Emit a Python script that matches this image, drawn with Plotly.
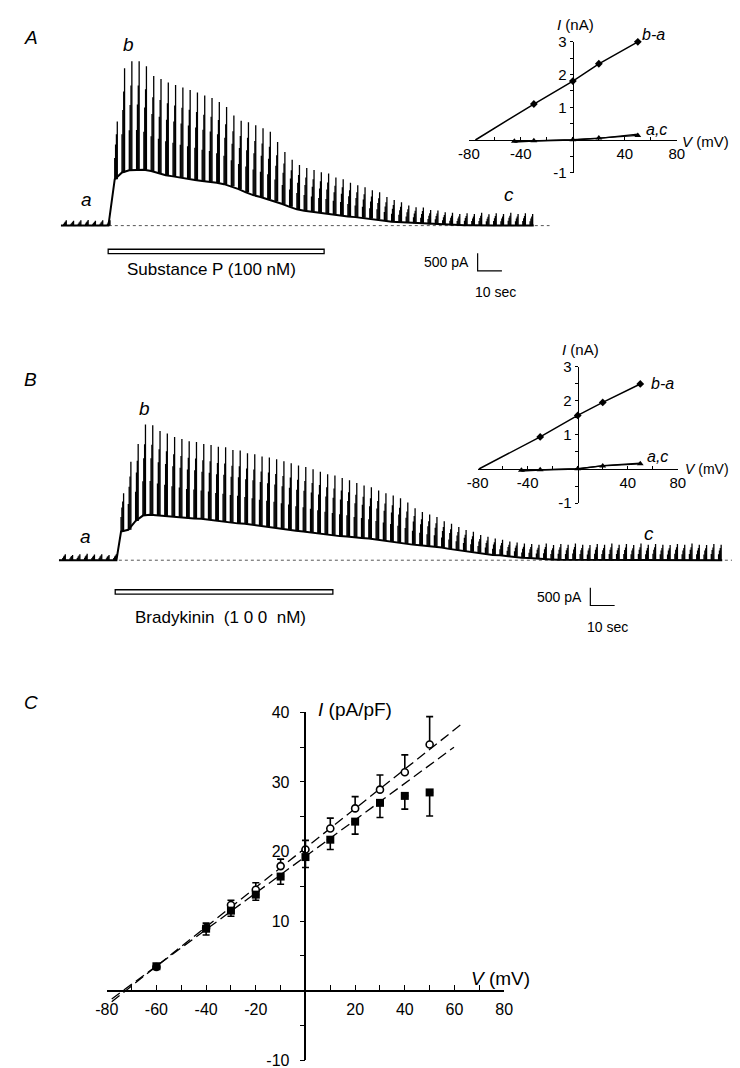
import plotly.graph_objects as go

W, H = 740, 1068
FONT = "Liberation Sans, Arial, Helvetica, sans-serif"

# ------------------------------------------------------------------ data
PERIOD_S = 3.0                 # voltage-step episode every 3 s
A_FIRST_S, B_FIRST_S = 1.2, 1.6
A_ONSET_S, B_ONSET_S = 19.6, 23.7
SP_APPL_S = [19.5, 108.4]       # substance P application
BK_APPL_S = [23.2, 112.8]       # bradykinin application
SCALE_I_NA, SCALE_T_S = 0.5, 10.0

# current at +50 mV step of each episode (nA above baseline)
A_PEAK_NA = [0.15, 0.14, 0.15, 0.16, 0.14, 0.15, 0.15,
             2.94, 4.44, 4.64, 4.64, 4.50, 4.22, 4.14, 4.04, 3.97, 3.90,
             3.83, 3.76, 3.67, 3.60, 3.49, 3.35, 3.11, 2.96, 2.92, 2.83,
             2.75, 2.65, 2.36, 2.08, 1.86, 1.71, 1.63, 1.57, 1.51, 1.47,
             1.36, 1.31, 1.21, 1.14, 1.08, 1.00, 0.94, 0.81, 0.72, 0.66,
             0.57, 0.52, 0.51, 0.44, 0.43, 0.38,
             0.36, 0.33, 0.35, 0.33, 0.36, 0.32, 0.35, 0.33, 0.36, 0.33, 0.35, 0.33]
# holding current of each episode (nA)
A_HOLD_NA = [0, 0, 0, 0, 0, 0, 0,
             1.31, 1.50, 1.56, 1.58, 1.58, 1.54, 1.47, 1.42, 1.39, 1.35,
             1.32, 1.29, 1.26, 1.24, 1.21, 1.17, 1.11, 1.03, 0.94, 0.86,
             0.81, 0.75, 0.69, 0.61, 0.53, 0.46, 0.42, 0.39, 0.36, 0.34,
             0.32, 0.29, 0.26, 0.24, 0.22, 0.20, 0.18, 0.14, 0.11, 0.10,
             0.08, 0.07, 0.06, 0.04, 0.03,
             0.02, 0.01, 0.01, 0.01, 0.01, 0.0, 0.01, 0.0, 0.0, 0.01, 0.0, 0.0, 0.0]

B_PEAK_NA = [0.17, 0.15, 0.17, 0.18, 0.16, 0.17, 0.15, 0.17,
             1.89, 2.78, 3.28, 3.83, 3.81, 3.65, 3.58, 3.48, 3.42, 3.36,
             3.34, 3.28, 3.25, 3.20, 3.19, 3.11, 3.10, 3.02, 2.99, 2.93,
             2.90, 2.85, 2.79, 2.74, 2.67, 2.63, 2.57, 2.50, 2.43, 2.39,
             2.32, 2.26, 2.18, 2.11, 2.06, 1.97, 1.89, 1.83, 1.75, 1.63,
             1.47, 1.36, 1.29, 1.22, 1.10, 1.03, 0.94, 0.85, 0.80, 0.71,
             0.66, 0.61, 0.58, 0.53, 0.50, 0.47,
             0.46, 0.44, 0.47, 0.43, 0.46, 0.44, 0.47, 0.44, 0.43, 0.46,
             0.44, 0.47, 0.44, 0.46, 0.43, 0.47, 0.44, 0.46, 0.44, 0.43,
             0.46, 0.44, 0.47, 0.44, 0.43, 0.46, 0.44]
B_HOLD_NA = [0, 0, 0, 0, 0, 0, 0, 0,
             0.81, 0.86, 1.11, 1.26, 1.28, 1.26, 1.25, 1.24, 1.22, 1.19,
             1.18, 1.17, 1.14, 1.11, 1.08, 1.07, 1.04, 1.03, 1.00, 0.97,
             0.94, 0.92, 0.89, 0.86, 0.83, 0.81, 0.78, 0.75, 0.72, 0.69,
             0.68, 0.67, 0.64, 0.63, 0.61, 0.58, 0.56, 0.53, 0.50, 0.47,
             0.44, 0.42, 0.40, 0.39, 0.36, 0.32, 0.29, 0.26, 0.24, 0.21,
             0.18, 0.15, 0.14, 0.11, 0.10, 0.07,
             0.06, 0.04, 0.03, 0.02, 0.01, 0.01, 0.02, 0.01, 0.0, 0.01,
             0.01, 0.0, 0.01, 0.0, 0.01, 0.0, 0.0, 0.01, 0.0, 0.0,
             0.01, 0.0, 0.0, 0.0, 0.0, 0.0, 0.0]

# inset I-V relations
IV_V_MV = [-30, 0, 20, 50]
A_BA_NA = [1.10, 1.80, 2.33, 3.00]
A_BA_REV_MV = -75
B_BA_NA = [0.94, 1.57, 1.95, 2.49]
B_BA_REV_MV = -79
AC_V_MV = [-45, -30, 0, 20, 50]
A_A_NA = [-0.06, -0.03, 0.00, 0.05, 0.18]
A_C_NA = [-0.04, -0.02, 0.01, 0.06, 0.14]
B_A_NA = [-0.06, -0.03, 0.00, 0.10, 0.17]
B_C_NA = [-0.04, -0.02, 0.01, 0.09, 0.15]

# panel C : current density
C_V = [-60, -40, -30, -20, -10, 0, 10, 20, 30, 40, 50]
C_OPEN = [3.4, 9.0, 12.3, 14.5, 17.9, 20.3, 23.3, 26.2, 28.9, 31.4, 35.4]
C_OPEN_SEM = [0.4, 0.7, 0.7, 1.0, 1.0, 1.3, 1.5, 1.7, 2.1, 2.5, 4.0]
C_FILL = [3.5, 8.9, 11.5, 13.8, 16.4, 19.2, 21.7, 24.3, 27.0, 28.0, 28.5]
C_FILL_SEM = [0.4, 0.9, 0.8, 0.8, 1.1, 1.5, 1.4, 1.8, 2.1, 1.9, 3.4]
C_FIT_OPEN_V, C_FIT_OPEN_I = [-78, 62.4], [-1.6, 38.2]
C_FIT_FILL_V, C_FIT_FILL_I = [-78, 59.8], [-1.2, 35.0]

# ------------------------------------------------------------------ helpers
def px(x): return x / W
def py(y): return 1 - y / H
def dom_x(a, b): return [a / W, b / W]
def dom_y(top, bottom): return [1 - bottom / H, 1 - top / H]

S_PER_PX, PX_PER_NA = 0.4, 36.0
A_X0, A_BASE = 42, 212
B_X0, B_BASE = 40, 552
def a_t(x): return (x - A_X0) * S_PER_PX
def a_i(y): return (A_BASE - y) / PX_PER_NA
def b_t(x): return (x - B_X0) * S_PER_PX
def b_i(y): return (B_BASE - y) / PX_PER_NA


def spikes(first, peaks, holds, ba):
    fr = [v / ba[-1] for v in ba]
    xs, ys = [], []
    for k, (p, h) in enumerate(zip(peaks, holds)):
        t = first + k * PERIOD_S
        for j, f in enumerate(fr):
            tt = t + j * 0.35
            xs += [tt, tt, None]
            ys += [h, h + f * (p - h), None]
    return xs, ys


def envelope(first, onset, holds):
    ts = [first + k * PERIOD_S for k in range(len(holds))]
    pts = [(0.0, 0.0), (onset, 0.0)] + list(zip(ts, holds)) + [(ts[-1] + 1.5, holds[-1])]
    pts.sort()
    return [p[0] for p in pts], [p[1] for p in pts]


fig = go.Figure()
shapes, annos = [], []

def add_trace_panel(xa, ya, first, onset, peaks, holds, ba):
    ex, ey = envelope(first, onset, holds)
    fig.add_trace(go.Scatter(x=ex, y=ey, mode="lines", xaxis=xa, yaxis=ya,
                             line=dict(color="black", width=2), hoverinfo="skip"))
    sx, sy = spikes(first, peaks, holds, ba)
    fig.add_trace(go.Scatter(x=sx, y=sy, mode="lines", xaxis=xa, yaxis=ya,
                             line=dict(color="black", width=1.3), hoverinfo="skip"))

add_trace_panel("x", "y", A_FIRST_S, A_ONSET_S, A_PEAK_NA, A_HOLD_NA, A_BA_NA)
add_trace_panel("x3", "y3", B_FIRST_S, B_ONSET_S, B_PEAK_NA, B_HOLD_NA, B_BA_NA)

# baselines
shapes.append(dict(type="line", xref="x", yref="y", x0=0, x1=a_t(545), y0=0, y1=0,
                   line=dict(color="#555", width=1, dash="dot"), layer="below"))
shapes.append(dict(type="line", xref="x3", yref="y3", x0=0, x1=b_t(736), y0=0, y1=0,
                   line=dict(color="#555", width=1, dash="dot"), layer="below"))
# drug bars
shapes.append(dict(type="rect", xref="x", yref="y", x0=SP_APPL_S[0], x1=SP_APPL_S[1],
                   y0=a_i(236), y1=a_i(240.5), line=dict(color="black", width=1.3), fillcolor="white"))
shapes.append(dict(type="rect", xref="x3", yref="y3", x0=BK_APPL_S[0], x1=BK_APPL_S[1],
                   y0=b_i(582), y1=b_i(586.5), line=dict(color="black", width=1.3), fillcolor="white"))
# scale bars
for xr, yr, t0, i0 in [("x", "y", a_t(471), a_i(240)), ("x3", "y3", b_t(587), b_i(580))]:
    shapes.append(dict(type="path", xref=xr, yref=yr,
                       path=f"M {t0},{i0} L {t0},{i0 - SCALE_I_NA} L {t0 + SCALE_T_S},{i0 - SCALE_I_NA}",
                       line=dict(color="black", width=1.2)))

# insets
def add_inset(xa, ya, ba, rev, a_vals, c_vals):
    fig.add_trace(go.Scatter(x=[rev] + IV_V_MV, y=[0] + ba, mode="lines", xaxis=xa, yaxis=ya,
                             line=dict(color="black", width=1.5), cliponaxis=False, hoverinfo="skip"))
    fig.add_trace(go.Scatter(x=IV_V_MV, y=ba, mode="markers", xaxis=xa, yaxis=ya, cliponaxis=False,
                             marker=dict(symbol="diamond", size=6, color="black"), hoverinfo="skip"))
    fig.add_trace(go.Scatter(x=AC_V_MV, y=a_vals, mode="lines", xaxis=xa, yaxis=ya, cliponaxis=False,
                             line=dict(color="black", width=1.3), hoverinfo="skip"))
    fig.add_trace(go.Scatter(x=AC_V_MV, y=c_vals, mode="lines+markers", xaxis=xa, yaxis=ya, cliponaxis=False,
                             line=dict(color="black", width=1.3),
                             marker=dict(symbol="triangle-up", size=6, color="black"), hoverinfo="skip"))

add_inset("x2", "y2", A_BA_NA, A_BA_REV_MV, A_A_NA, A_C_NA)
add_inset("x4", "y4", B_BA_NA, B_BA_REV_MV, B_A_NA, B_C_NA)

# panel C
fig.add_trace(go.Scatter(x=C_FIT_OPEN_V, y=C_FIT_OPEN_I, mode="lines", xaxis="x5", yaxis="y5",
                         line=dict(color="black", width=1.3, dash="10px,5px"), cliponaxis=False, hoverinfo="skip"))
fig.add_trace(go.Scatter(x=C_FIT_FILL_V, y=C_FIT_FILL_I, mode="lines", xaxis="x5", yaxis="y5",
                         line=dict(color="black", width=1.3, dash="10px,5px"), cliponaxis=False, hoverinfo="skip"))
fig.add_trace(go.Scatter(x=C_V, y=C_OPEN, mode="markers", xaxis="x5", yaxis="y5", cliponaxis=False,
                         error_y=dict(type="data", symmetric=False, array=C_OPEN_SEM,
                                      arrayminus=[0] * len(C_V), width=3.5, thickness=1.6, color="black"),
                         marker=dict(symbol="circle", size=7, color="white", line=dict(color="black", width=1.6)),
                         hoverinfo="skip"))
fig.add_trace(go.Scatter(x=C_V, y=C_FILL, mode="markers", xaxis="x5", yaxis="y5", cliponaxis=False,
                         error_y=dict(type="data", symmetric=False, array=[0] * len(C_V),
                                      arrayminus=C_FILL_SEM, width=3.5, thickness=1.6, color="black"),
                         marker=dict(symbol="square", size=8, color="black"), hoverinfo="skip"))

# ------------------------------------------------------------------ axes
hidden_a_x = dict(domain=dom_x(A_X0, 560), range=[0, a_t(560)], visible=False)
hidden_a_y = dict(domain=dom_y(30, 300), range=[a_i(300), a_i(30)], visible=False)
hidden_b_x = dict(domain=dom_x(B_X0, 740), range=[0, b_t(740)], visible=False)
hidden_b_y = dict(domain=dom_y(370, 640), range=[b_i(640), b_i(370)], visible=False)

def iv_x(d, pos, size):
    vals = list(range(-80, 81, 20))
    txt = [str(v) if v in (-80, -40, 40, 80) else "" for v in vals]
    return dict(domain=d, range=[-80, 80], anchor="free", position=pos, showline=True,
                linecolor="black", linewidth=1.3, ticks="inside", ticklen=3, tickwidth=1.2,
                tickcolor="black", tickvals=vals, ticktext=txt, showgrid=False, zeroline=False,
                tickfont=dict(size=size, color="black", family=FONT))

def iv_y(d, pos, size):
    vals = [-1, -0.5, 0, 0.5, 1, 1.5, 2, 2.5, 3]
    txt = ["-1", "", "", "", "1", "", "2", "", "3"]
    return dict(domain=d, range=[-1, 3], anchor="free", position=pos, showline=True,
                linecolor="black", linewidth=1.3, ticks="outside", ticklen=3, tickwidth=1.2,
                tickcolor="black", tickvals=vals, ticktext=txt, showgrid=False, zeroline=False,
                tickfont=dict(size=size, color="black", family=FONT))

cxv = list(range(-80, 81, 10))
cxt = [str(v) if (v % 20 == 0 and v != 0) else "" for v in cxv]
cyv = list(range(-10, 41, 5))
cyt = [str(v) if (v % 10 == 0 and v != 0) else "" for v in cyv]

fig.update_layout(
    width=W, height=H, margin=dict(l=0, r=0, t=0, b=0),
    paper_bgcolor="white", plot_bgcolor="rgba(0,0,0,0)", showlegend=False,
    font=dict(family=FONT, color="black"),
    xaxis=hidden_a_x, yaxis=hidden_a_y,
    xaxis3=hidden_b_x, yaxis3=hidden_b_y,
    xaxis2=iv_x(dom_x(462, 676), py(125), 15),
    yaxis2=iv_y(dom_y(25.25, 158.25), px(569), 15),
    xaxis4=iv_x(dom_x(471, 677), py(459.3), 15),
    yaxis4=iv_y(dom_y(355.2, 494), px(574), 15),
    xaxis5=dict(domain=dom_x(89.3, 498.3), range=[-80, 80], anchor="free", position=py(989.3),
                showline=True, linecolor="black", linewidth=1.6, ticks="inside", ticklen=5,
                tickwidth=1.4, tickcolor="black", tickvals=cxv, ticktext=cxt, showgrid=False,
                zeroline=False, ticklabelstandoff=4,
                tickfont=dict(size=16, color="black", family=FONT)),
    yaxis5=dict(domain=dom_y(706.7, 1060), range=[-10, 40], anchor="free", position=px(293.8),
                showline=True, linecolor="black", linewidth=1.6, ticks="outside", ticklen=5,
                tickwidth=1.4, tickcolor="black", tickvals=cyv, ticktext=cyt, showgrid=False,
                zeroline=False, ticklabelstandoff=7,
                tickfont=dict(size=16, color="black", family=FONT)),
)

def note(text, x, y, size=15, xanchor="center", italic=False):
    if italic:
        text = f"<i>{text}</i>"
    annos.append(dict(text=text, x=px(x), y=py(y), xref="paper", yref="paper",
                      xanchor=xanchor, yanchor="middle", showarrow=False,
                      font=dict(size=size, color="black", family=FONT)))

# panel letters
note("A", 11, 21, 19, italic=True)
note("B", 11, 368, 19, italic=True)
note("C", 11, 697, 19, italic=True)
# trace labels
note("a", 68, 185, 19, italic=True)
note("b", 112, 28, 19, italic=True)
note("c", 503, 180, 19, italic=True)
note("a", 67, 528, 19, italic=True)
note("b", 128, 398, 19, italic=True)
note("c", 647, 525, 19, italic=True)
# drug labels
note("Substance P (100 nM)", 197, 257, 17)
note("Bradykinin\u00a0 (1\u00a00\u00a00\u00a0 nM)", 206, 610, 17)
# scale bar labels
note("500 pA", 464, 249, 14, xanchor="right")
note("10 sec", 489, 279, 14)
note("500 pA", 580, 589, 14, xanchor="right")
note("10 sec", 605, 620, 14)
# inset labels
note("<i>I</i> (nA)", 572, 8, 15)
note("<i>V</i> (mV)", 679, 127, 15, xanchor="left")
note("b-a", 638, 18, 16, xanchor="left", italic=True)
note("a,c", 642, 114, 16, xanchor="left", italic=True)
note("<i>I</i> (nA)", 577, 338, 15)
note("<i>V</i> (mV)", 682, 459, 14, xanchor="left")
note("b-a", 647, 372, 16, xanchor="left", italic=True)
note("a,c", 643, 447, 16, xanchor="left", italic=True)
# panel C axis titles
note("<i>I</i> (pA/pF)", 305, 704, 19, xanchor="left")
note("<i>V</i> (mV)", 495, 977, 19)

fig.update_layout(shapes=shapes, annotations=annos)
fig.write_html("out.html")
